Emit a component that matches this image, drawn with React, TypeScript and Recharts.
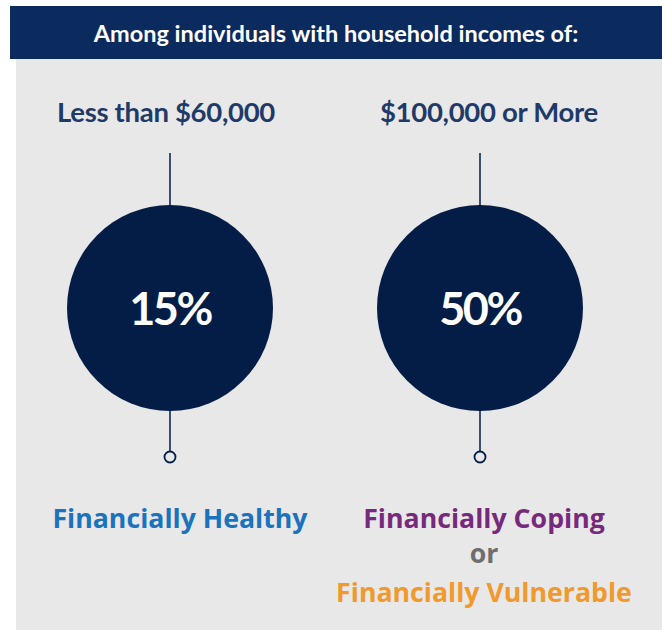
import { Scatter, ScatterChart, XAxis, YAxis } from "recharts";

// income groups shown above each circle
const INCOME_GROUPS = ["Less than $60,000", "$100,000 or More"];
// share of individuals in each group (percent)
const SHARES = [15, 50];
// outcome text under each circle, one entry per line
const OUTCOME_LABELS = [
  ["Financially Healthy"],
  ["Financially Coping", "or", "Financially Vulnerable"],
];

const OUTCOME_COLORS: Record<string, string> = {
  "Financially Healthy": "#1b72bd",
  "Financially Coping": "#772a7b",
  or: "#6e6e6e",
  "Financially Vulnerable": "#f0992c",
};

const NAVY = "#041d46";
const LABEL_NAVY = "#1f3a68";
const PANEL = "#e8e8e8";
const R = 103;

const data = INCOME_GROUPS.map((group, i) => ({
  group,
  share: SHARES[i],
  level: 0.5,
}));

function TopTick(props: any) {
  const { x, y, payload } = props;
  const idx = INCOME_GROUPS.indexOf(payload.value);
  return (
    <text
      x={x + (idx === 0 ? -4 : 9)}
      y={y - 39}
      textAnchor="middle"
      dominantBaseline="central"
      fontFamily="Lato, sans-serif"
      fontWeight={700}
      fontSize={27.5}
      letterSpacing={-0.3}
      fill={LABEL_NAVY}
    >
      {payload.value}
    </text>
  );
}

function BottomTick(props: any) {
  const { x, y, payload } = props;
  const idx = INCOME_GROUPS.indexOf(payload.value);
  const lines = OUTCOME_LABELS[idx] ?? [];
  const offsets = [51, 86, 125];
  return (
    <g>
      {lines.map((t, i) => (
        <text
          key={t}
          x={x + (idx === 0 ? 10 : 4)}
          y={y + offsets[i]}
          textAnchor="middle"
          dominantBaseline="central"
          fontFamily="'Open Sans', sans-serif"
          fontWeight={700}
          fontSize={26.7}
          fill={OUTCOME_COLORS[t]}
        >
          {t}
        </text>
      ))}
    </g>
  );
}

function Bubble(props: any) {
  const { cx, cy, payload } = props;
  return (
    <g>
      <line x1={cx} x2={cx} y1={cy - R - 52} y2={cy - R} stroke={NAVY} strokeWidth={1.5} />
      <circle cx={cx} cy={cy} r={R} fill={NAVY} />
      <text
        x={cx}
        y={cy}
        textAnchor="middle"
        dominantBaseline="central"
        fontFamily="Lato, sans-serif"
        fontWeight={700}
        fontSize={45}
        letterSpacing={-2.5}
        fill="#ffffff"
      >
        {payload.share}%
      </text>
      <line x1={cx} x2={cx} y1={cy + R} y2={cy + R + 40} stroke={NAVY} strokeWidth={1.5} />
      <circle cx={cx} cy={cy + R + 46} r={5.5} fill={PANEL} stroke={NAVY} strokeWidth={1.8} />
    </g>
  );
}

export default function App() {
  return (
    <div style={{ position: "absolute", left: 0, top: 0, width: 662, height: 631 }}>
      <div
        style={{ position: "absolute", left: 16, top: 58, width: 646, height: 572, background: PANEL }}
      />
      <div
        style={{
          position: "absolute",
          left: 10,
          top: 6,
          width: 652,
          height: 53,
          background: "#0b2a5e",
          color: "#fff",
          fontFamily: "Lato, sans-serif",
          fontWeight: 700,
          fontSize: 23.5,
          display: "flex",
          alignItems: "center",
          justifyContent: "center",
        }}
      >
        Among individuals with household incomes of:
      </div>
      <div style={{ position: "absolute", left: 0, top: 0 }}>
        <ScatterChart width={662} height={631} margin={{ top: 90, right: 27, bottom: 0, left: 15 }}>
          <XAxis
            xAxisId="top"
            dataKey="group"
            type="category"
            orientation="top"
            height={60}
            axisLine={false}
            tickLine={false}
            tickSize={0}
            tickMargin={0}
            tick={<TopTick />}
            allowDuplicatedCategory={false}
          />
          <XAxis
            xAxisId="bottom"
            dataKey="group"
            type="category"
            orientation="bottom"
            height={165}
            axisLine={false}
            tickLine={false}
            tickSize={0}
            tickMargin={0}
            tick={<BottomTick />}
            allowDuplicatedCategory={false}
          />
          <YAxis dataKey="level" type="number" domain={[0, 1]} hide />
          <Scatter
            data={data}
            xAxisId="top"
            shape={<Bubble />}
            isAnimationActive={false}
          />
          <Scatter
            data={data}
            xAxisId="bottom"
            shape={() => <g />}
            isAnimationActive={false}
          />
        </ScatterChart>
      </div>
    </div>
  );
}
